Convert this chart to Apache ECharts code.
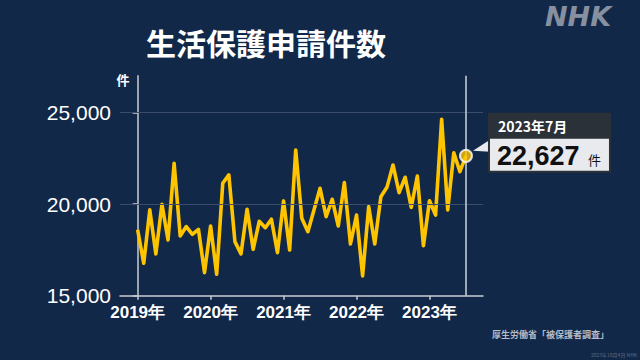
<!DOCTYPE html>
<html><head><meta charset="utf-8">
<script src="https://cdn.jsdelivr.net/npm/echarts@6/dist/echarts.min.js"></script>
<style>html,body{margin:0;padding:0;background:#122848}#c{width:640px;height:360px}</style>
</head><body><div id="c"></div>
<script>
const title = '生活保護申請件数';
const startYear = 2019;
const yearLabels = ['2019年','2020年','2021年','2022年','2023年'];
const yearTickIdx = [0, 12, 24, 36, 48];
const yTicks = [15000, 20000, 25000];
const values = [
  18600,16770,19680,17280,19990,18040,22220,18260,18770,18350,18620,16260,
  18800,16170,21130,21590,17950,17280,19710,17530,19060,18710,19170,17350,
  20170,17490,22950,19220,18490,19680,20860,19310,20260,18800,21170,17820,
  19400,16080,19860,17820,20400,20910,22130,20620,21460,19820,21530,17730,
  20180,19400,24620,19680,22800,21770,22627
];
const sourceText = '厚生労働省「被保護者調査」';

const JP = '"Noto Sans CJK JP", sans-serif';
const NUM = '"Liberation Sans", Arial, sans-serif';
const lastIdx = values.length - 1;
const lastLabel = (startYear + Math.floor(lastIdx / 12)) + '年' + (lastIdx % 12 + 1) + '月';
const seriesData = values.map((v, i) => [i, v]);

const chart = echarts.init(document.getElementById('c'), null, {renderer: 'svg'});
chart.setOption({
  animation: false,
  backgroundColor: '#122848',
  title: {
    text: title, left: 141, top: 22,
    textStyle: {color: '#fff', fontSize: 30, fontWeight: 'bold', fontFamily: JP}
  },
  grid: {left: 120, right: 157, top: 75.7, bottom: 64.3, containLabel: false},
  xAxis: {
    type: 'value', min: -2.9, max: 56.8,
    axisLine: {show: true, lineStyle: {color: '#c9ccd3', width: 1.5}},
    axisTick: {show: true, customValues: yearTickIdx, length: 4, lineStyle: {color: '#c9ccd3', width: 1.5}},
    axisLabel: {
      customValues: yearTickIdx, margin: 8,
      formatter: v => yearLabels[yearTickIdx.indexOf(Math.round(v))] || '',
      color: '#fff', fontSize: 17, fontWeight: 'bold', fontFamily: NUM
    },
    splitLine: {show: false}
  },
  yAxis: {
    type: 'value', min: 15000, max: 27000,
    name: '件', nameLocation: 'end', nameGap: -4,
    nameTextStyle: {color: '#fff', fontSize: 13, fontWeight: 'bold', fontFamily: JP, align: 'right', verticalAlign: 'middle', padding: [0, 8, 0, 0]},
    axisLine: {show: true, lineStyle: {color: '#c9ccd3', width: 1.5}},
    axisTick: {show: true, customValues: yTicks, length: 5, lineStyle: {color: '#c9ccd3', width: 1.5}},
    axisLabel: {
      customValues: yTicks, margin: 9,
      formatter: v => v.toLocaleString('en-US'),
      color: '#fff', fontSize: 21, fontFamily: NUM
    },
    splitLine: {show: false}
  },
  series: [
    {
      type: 'line', data: seriesData, symbol: 'none',
      lineStyle: {color: '#ffc400', width: 3.6, join: 'round'},
      markLine: {
        silent: true, symbol: 'none', label: {show: false},
        data: [
          {yAxis: 20000, lineStyle: {color: '#3a4c69', width: 1, type: 'solid'}},
          {yAxis: 25000, lineStyle: {color: '#3a4c69', width: 1, type: 'solid'}},
          {xAxis: lastIdx, lineStyle: {color: '#d0d3da', width: 1.5, type: 'solid'}}
        ]
      },
      z: 3
    },
    {
      type: 'scatter', data: [seriesData[lastIdx]], symbol: 'circle', symbolSize: 12,
      itemStyle: {color: '#ffc400', borderColor: '#fff', borderWidth: 2}, z: 5
    }
  ]
});

const p = chart.convertToPixel({gridIndex: 0}, seriesData[lastIdx]);
const bx = p[0] + 23, by = p[1] - 43;
chart.setOption({
  graphic: [
    {type: 'polygon', shape: {points: [[p[0] + 7, p[1] - 5], [bx + 1, by + 27], [bx + 1, by + 39]]}, style: {fill: '#e8eaee'}, z: 10},
    {type: 'rect', shape: {x: bx, y: by + 25, width: 121, height: 34}, style: {fill: '#e8eaee', stroke: '#2b3139', lineWidth: 2}, z: 10},
    {type: 'rect', shape: {x: bx - 1, y: by, width: 123, height: 25}, style: {fill: '#2b3139'}, z: 10},
    {type: 'text', x: bx + 9, y: by + 13, style: {text: lastLabel, fill: '#fff', font: 'bold 14px ' + JP, verticalAlign: 'middle'}, z: 11},
    {type: 'text', x: bx + 8, y: by + 43, style: {text: values[lastIdx].toLocaleString('en-US'), fill: '#111', font: 'bold 27px ' + NUM, verticalAlign: 'middle'}, z: 11},
    {type: 'text', x: bx + 99, y: by + 47, style: {text: '件', fill: '#111', font: '13px ' + JP, verticalAlign: 'middle'}, z: 11},
    {type: 'text', x: 545, y: 3, style: {text: 'NHK', fill: '#8790a0', font: 'italic bold 27px "DejaVu Sans", sans-serif'}, z: 11},
    {type: 'text', x: 492, y: 330, style: {text: sourceText, fill: '#b5bcc8', font: 'bold 9px ' + JP}, z: 11},
    {type: 'text', x: 637, y: 352, style: {text: '2023年10月4日 NHK', fill: '#5d6b82', font: '5px ' + JP, align: 'right'}, z: 11}
  ]
});
</script></body></html>
